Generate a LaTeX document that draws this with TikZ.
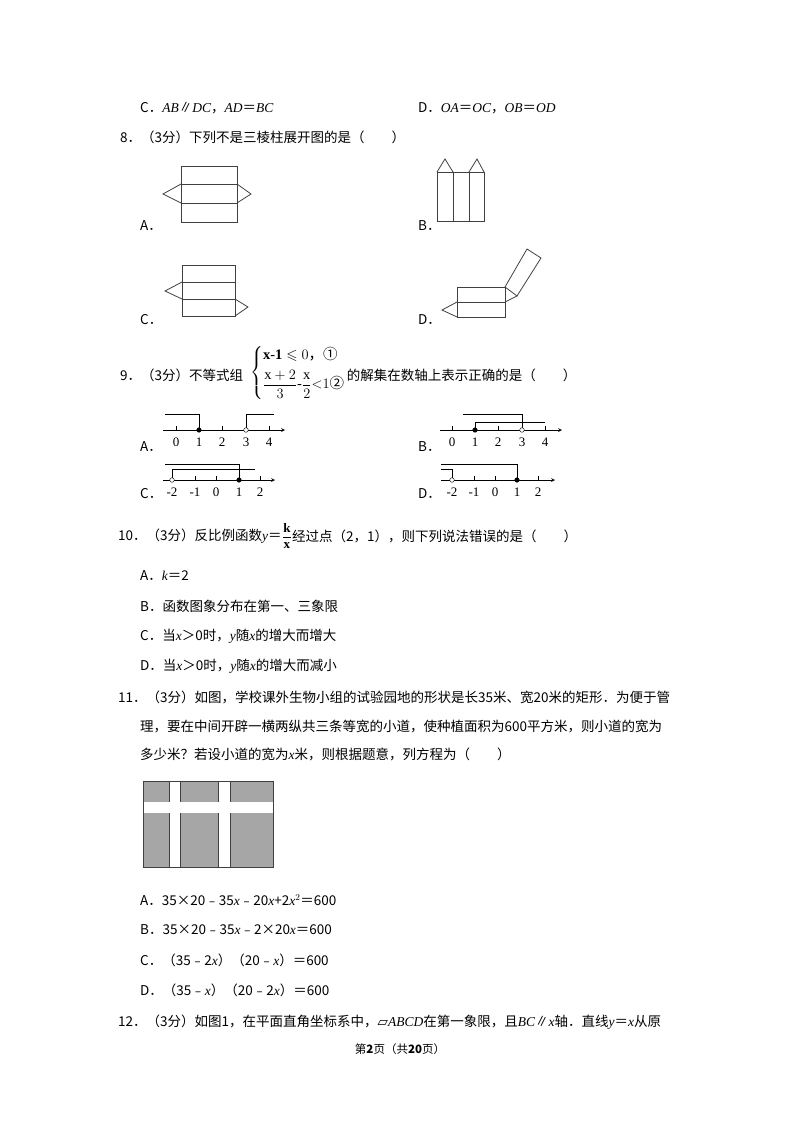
\documentclass[tikz,border=0pt]{standalone}
\usepackage{amsmath}
\usepackage{amssymb}
\usepackage{fontspec}
\setmainfont{Liberation Serif}
\newfontfamily\cjk{Noto Sans CJK SC}
\newfontfamily\sym{DejaVu Sans}
\newcommand{\vi}[1]{{\rmfamily\itshape #1}}
\tikzset{
  txt/.style={anchor=west,inner sep=0pt,font=\cjk\fontsize{13.5}{16}\selectfont},
  net/.style={line width=0.8pt,black!75},
  axis/.style={line width=0.7pt,->,>=stealth},
  lbl/.style={inner sep=0pt,font=\rmfamily\fontsize{13}{15}\selectfont}
}
\begin{document}
\begin{tikzpicture}[x=1pt,y=-1pt]
\useasboundingbox (0,0) rectangle (800,1132);
\definecolor{plotgray}{RGB}{166,166,166}
% 第7题选项
\node[txt] (q7c) at (140,108) {C．\vi{AB}∥\vi{DC}，\vi{AD}＝\vi{BC}};
\node[txt] (q7d) at (418,108) {D．\vi{OA}＝\vi{OC}，\vi{OB}＝\vi{OD}};
% 第8题
\node[txt] (q8) at (120,137) {8．（3分）下列不是三棱柱展开图的是（　　）};
\node[txt] (q8a) at (140,226) {A．};
\node[txt] (q8b) at (418,226) {B．};
\node[txt] (q8c) at (140,320) {C．};
\node[txt] (q8d) at (418,320) {D．};
% 图A
\draw[net] (181,166) rectangle (237,222);
\draw[net] (181,184) -- (237,184) (181,203) -- (237,203);
\draw[net] (181,184) -- (163,194) -- (181,203);
\draw[net] (237,184) -- (251,194) -- (237,203);
% 图B
\draw[net] (437,172) rectangle (484,221);
\draw[net] (453,172) -- (453,221) (469,172) -- (469,221);
\draw[net] (437,172) -- (445,159) -- (453,172);
\draw[net] (469,172) -- (477,159) -- (484,172);
% 图C
\draw[net] (182,265) rectangle (235,316);
\draw[net] (182,282) -- (235,282) (182,299) -- (235,299);
\draw[net] (182,282) -- (165,291) -- (182,299);
\draw[net] (235,299) -- (248,307) -- (235,316);
% 图D
\draw[net] (457,287) rectangle (505,317);
\draw[net] (457,302) -- (505,302);
\draw[net] (457,302) -- (442,310) -- (457,317);
\draw[net] (505,287) -- (517,296) -- (505,302);
\draw[net] (505,287) -- (527,249) -- (541,258) -- (517,296);
% 第9题
\node[txt] (q9) at (120,375) {9．（3分）不等式组};
\node[anchor=west,inner sep=0pt,font=\fontsize{14.5}{17}\selectfont] (sys) at (250,373)
  {$\left\{\begin{array}{@{}l@{}}\mathbf{x}\text{-}\mathbf{1}\leqslant0\text{\cjk ，①}\\[5pt]
   \dfrac{\mathrm{x}+2}{3}\text{-}\dfrac{\mathrm{x}}{2}{<}1\text{\cjk ②}\end{array}\right.$};
\node[txt] (q9t) at ([xshift=1pt]sys.east|-q9) {的解集在数轴上表示正确的是（　　）};
\node[txt] (q9a) at (140,447) {A．};
\node[txt] (q9b) at (418,447) {B．};
\node[txt] (q9c) at (140,494) {C．};
\node[txt] (q9d) at (418,494) {D．};
% 数轴A
\draw[axis] (163,430) -- (285,430);
\foreach \x/\t in {176/0,199/1,222/2,246/3,269/4}
  {\draw (\x,430) -- (\x,426); \node[lbl] at (\x,442) {\t};}
\draw (165,414) -- (199,414) -- (199,430);
\draw (246,430) -- (246,414) -- (274,414);
\filldraw (199,430) circle (2.3pt);
\filldraw[fill=white] (246,430) circle (2.3pt);
% 数轴B
\draw[axis] (440,430) -- (562,430);
\foreach \x/\t in {452/0,475/1,498/2,522/3,545/4}
  {\draw (\x,430) -- (\x,426); \node[lbl] at (\x,442) {\t};}
\draw (475,430) -- (475,422) -- (545,422);
\draw (522,430) -- (522,414) -- (463,414);
\filldraw (475,430) circle (2.3pt);
\filldraw[fill=white] (522,430) circle (2.3pt);
% 数轴C
\draw[axis] (163,480) -- (275,480);
\foreach \x/\t in {172/-2,195/-1,216/0,239/1,260/2}
  {\draw (\x,480) -- (\x,476); \node[lbl] at (\x,492) {\t};}
\draw (172,480) -- (172,469) -- (255,469);
\draw (239,480) -- (239,464) -- (165,464);
\filldraw[fill=white] (172,480) circle (2.3pt);
\filldraw (239,480) circle (2.3pt);
% 数轴D
\draw[axis] (441,480) -- (555,480);
\foreach \x/\t in {452/-2,474/-1,495/0,517/1,538/2}
  {\draw (\x,480) -- (\x,476); \node[lbl] at (\x,492) {\t};}
\draw (452,480) -- (452,469) -- (441,469);
\draw (517,480) -- (517,464) -- (441,464);
\filldraw[fill=white] (452,480) circle (2.3pt);
\filldraw (517,480) circle (2.3pt);
% 第10题
\node[txt] (q10) at (118,536) {10．（3分）反比例函数\vi{y}＝};
\node[anchor=west,inner sep=0pt,font=\fontsize{13}{15}\selectfont] (frac) at (q10.east)
  {$\dfrac{\mathbf{k}}{\mathbf{x}}$};
\node[txt] (q10t) at (frac.east) {经过点（2，1），则下列说法错误的是（　　）};
\node[txt] (q10a) at (140,576) {A．\vi{k}＝2};
\node[txt] (q10b) at (140,606) {B．函数图象分布在第一、三象限};
\node[txt] (q10c) at (140,636) {C．当\vi{x}＞0时，\vi{y}随\vi{x}的增大而增大};
\node[txt] (q10d) at (140,666) {D．当\vi{x}＞0时，\vi{y}随\vi{x}的增大而减小};
% 第11题
\node[txt] (q11a) at (118,697) {11．（3分）如图，学校课外生物小组的试验园地的形状是长35米、宽20米的矩形．为便于管};
\node[txt] (q11b) at (140,726) {理，要在中间开辟一横两纵共三条等宽的小道，使种植面积为600平方米，则小道的宽为};
\node[txt] (q11c) at (140,754) {多少米？若设小道的宽为\vi{x}米，则根据题意，列方程为（　　）};
% 园地
\fill[plotgray] (143,781) rectangle (273,867);
\fill[white] (143,802) rectangle (273,813);
\fill[white] (169,781) rectangle (180,867);
\fill[white] (218,781) rectangle (230,867);
\draw[line width=0.9pt,black!75] (143,781) rectangle (273,867);
\draw[line width=0.9pt,black!75] (169,781) -- (169,802) (180,781) -- (180,802)
  (218,781) -- (218,802) (230,781) -- (230,802)
  (169,813) -- (169,867) (180,813) -- (180,867)
  (218,813) -- (218,867) (230,813) -- (230,867);
\node[txt] (o11a) at (140,900) {A．35×20﹣35\vi{x}﹣20\vi{x}+2\vi{x}$^2$＝600};
\node[txt] (o11b) at (140,930) {B．35×20﹣35\vi{x}﹣2×20\vi{x}＝600};
\node[txt] (o11c) at (140,960) {C．（35﹣2\vi{x}）（20﹣\vi{x}）＝600};
\node[txt] (o11d) at (140,990) {D．（35﹣\vi{x}）（20﹣2\vi{x}）＝600};
% 第12题
\node[txt] (q12) at (118,1022) {12．（3分）如图1，在平面直角坐标系中，{\sym ▱}\vi{ABCD}在第一象限，且\vi{BC}∥\vi{x}轴．直线\vi{y}＝\vi{x}从原};
% 页脚
\node[txt,anchor=center,font=\cjk\fontsize{11.5}{14}\selectfont] (foot) at (400,1049) {第\textbf{2}页（共\textbf{20}页）};
\end{tikzpicture}
\end{document}
